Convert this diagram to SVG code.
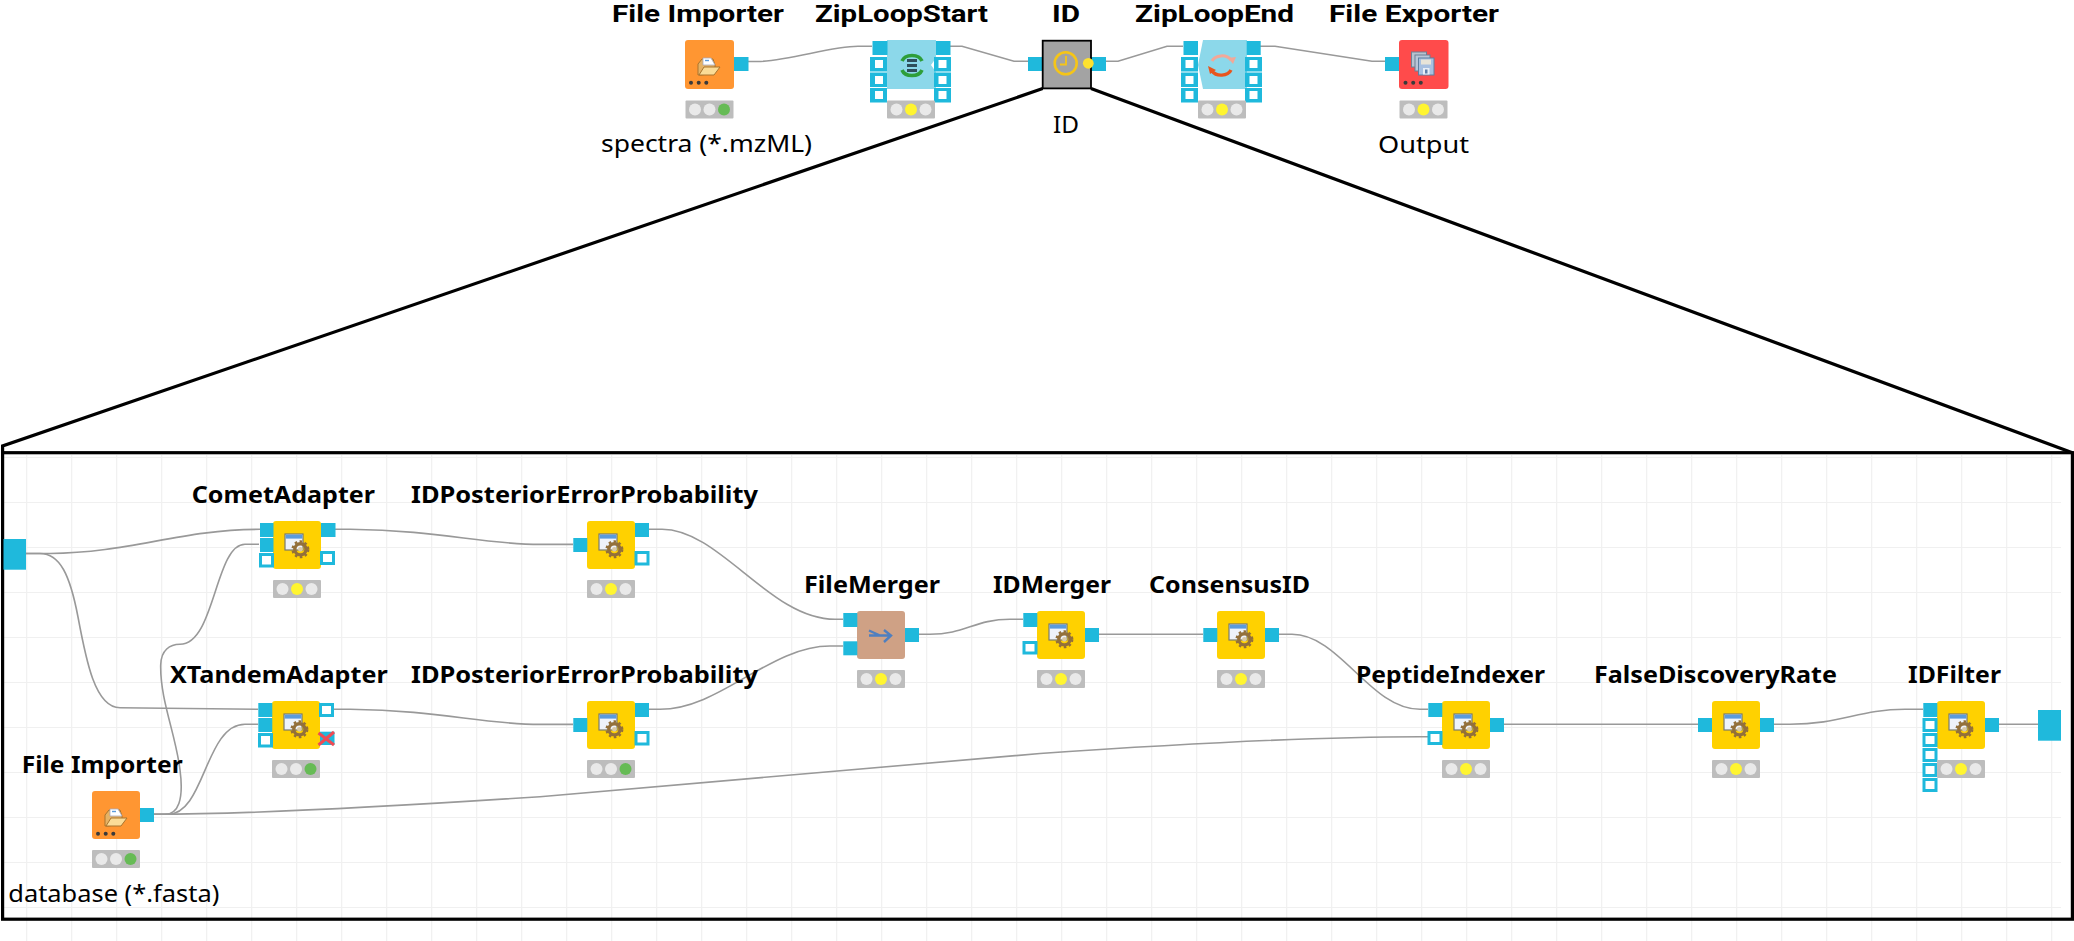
<svg xmlns="http://www.w3.org/2000/svg" width="2074" height="941" viewBox="0 0 2074 941">
<style>
text{font-family:"Noto Sans","Open Sans","DejaVu Sans",sans-serif;font-size:24px;fill:#000}
.b{font-weight:700}
.t{font-family:Roboto,"Noto Sans",sans-serif;font-size:23px}
.p{fill:#1fb9dc}
.e{fill:#fff;stroke:#1fb9dc;stroke-width:3}
.c{fill:none;stroke:#999;stroke-width:1.6}
.g{stroke:#f0f0f0;stroke-width:1.2;fill:none}
.f{fill:none;stroke:#000;stroke-width:3.2}
.n{fill:#ffd100}
.o{fill:#ff9632}
.r{fill:#ff4b4b}
.m{fill:#cfa185}
.l{fill:#8cd8ea}
.w{fill:#fff}
.d{fill:#3a3a3a}
</style>
<defs>
<g id="sg"><rect width="48" height="18" rx="1" fill="#bdbdbd"/><circle cx="9.5" cy="9" r="6" fill="#e9e9e9"/><circle cx="24" cy="9" r="6" fill="#e9e9e9"/><circle cx="38.5" cy="9" r="6" fill="#66bb55"/></g>
<g id="sy"><rect width="48" height="18" rx="1" fill="#bdbdbd"/><circle cx="9.5" cy="9" r="6" fill="#e9e9e9"/><circle cx="24" cy="9" r="6" fill="#fff530"/><circle cx="38.5" cy="9" r="6" fill="#e9e9e9"/></g>
<g id="dots"><circle cx="6" cy="42.7" r="2" class="d"/><circle cx="13.7" cy="42.7" r="2" class="d"/><circle cx="21.3" cy="42.7" r="2" class="d"/></g>
<g id="gear">
<rect x="12" y="13" width="18" height="16" fill="#eef3fa" stroke="#7a7a6a" stroke-width="1.2"/>
<rect x="12.6" y="13.6" width="16.8" height="4" fill="#5b9bdc"/>
<circle cx="27.4" cy="28.3" r="5.6" fill="none" stroke="#93703a" stroke-width="3.4"/>
<circle cx="27.4" cy="28.3" r="7.8" fill="none" stroke="#93703a" stroke-width="2.4" stroke-dasharray="2.6 2.5"/>
<circle cx="27.4" cy="28.3" r="2.4" fill="#d9c9a6"/>
</g>
<g id="folder">
<path d="M13 24 L17 19 H28 L30 25 V33 L16 35 H13Z" fill="#e6b264" stroke="#a9752e" stroke-width="1"/>
<path d="M18 18 H26 L30 25 H18Z" fill="#fff" stroke="#aab" stroke-width=".8"/>
<path d="M20 20.5H24" stroke="#5b9bdc" stroke-width="1.4"/>
<path d="M19 27 H35 L29 35 H14Z" fill="#fbdc97" stroke="#a9752e" stroke-width="1"/>
</g>
</defs>
<g id="grid">
<path class="g" d="M4 457.5H2061M4 502.5H2061M4 547.5H2061M4 592.5H2061M4 637.5H2061M4 682.5H2061M4 727.5H2061M4 772.5H2061M4 817.5H2061M4 862.5H2061M4 907.5H2061"/>
<path class="g" d="M26.7 455V941M71.7 455V941M116.7 455V941M161.7 455V941M206.7 455V941M251.7 455V941M296.7 455V941M341.7 455V941M386.7 455V941M431.7 455V941M476.7 455V941M521.7 455V941M566.7 455V941M611.7 455V941M656.7 455V941M701.7 455V941M746.7 455V941M791.7 455V941M836.7 455V941M881.7 455V941M926.7 455V941M971.7 455V941M1016.7 455V941M1061.7 455V941M1106.7 455V941M1151.7 455V941M1196.7 455V941M1241.7 455V941M1286.7 455V941M1331.7 455V941M1376.7 455V941M1421.7 455V941M1466.7 455V941M1511.7 455V941M1556.7 455V941M1601.7 455V941M1646.7 455V941M1691.7 455V941M1736.7 455V941M1781.7 455V941M1826.7 455V941M1871.7 455V941M1916.7 455V941M1961.7 455V941M2006.7 455V941M2051.7 455V941"/>
</g>
<g id="connectors">
<path class="c" d="M748 61.5H758C790 61 830 46.3 858 46.3H872"/>
<path class="c" d="M950 46.3H962L1014 61.3H1028"/>
<path class="c" d="M1106 61.3H1118L1167 46.3H1183"/>
<path class="c" d="M1260 46.3H1275L1372 61.3H1385"/>
<path class="c" d="M26 553.5H50C130 553 180 529.5 260 529.3"/>
<path class="c" d="M26 553.5H40C60 553.5 70 575 78 617C86 660 95 707.7 120 707.7L258 709.3"/>
<path class="c" d="M335 529.3H350C440 530 480 544.4 540 544.4H573"/>
<path class="c" d="M334 709.3H350C440 710 480 724.4 540 724.4H573"/>
<path class="c" d="M649 529.3H662C720 529.3 770 619.3 835 619.3H843"/>
<path class="c" d="M649 709.3H660C720 709.3 770 646 830 646H843"/>
<path class="c" d="M919 634.3H930C965 634.3 975 619.3 1010 619.3H1023"/>
<path class="c" d="M1099 634.3H1203"/>
<path class="c" d="M1279 634.3H1292C1340 634.3 1370 709.3 1420 709.3H1428"/>
<path class="c" d="M1504 724.3H1698"/>
<path class="c" d="M1774 724.3H1790C1840 724.3 1860 709.3 1905 709.3H1923"/>
<path class="c" d="M1999 724.3H2038"/>
<path class="c" d="M154 814.3C240 814.3 400 806 540 796.7L1040 753.5C1150 746 1300 736.7 1420 736.7H1428"/>
<path class="c" d="M154 814.3H168C205 814.3 205 724.3 245 724.3H258"/>
<path class="c" d="M154 814.3H165C178 814.3 184 800 180 770C176 735 160 700 160.7 665C161 650 170 644.3 180 644.3C215 644.3 215 544.3 245 544.3H259"/>
</g>
<g id="zoom-frame">
<rect class="f" x="2.6" y="452.7" width="2069.8" height="466.5"/>
<path class="f" d="M2.6 452.7V446L1042.7 88.6"/>
<path class="f" d="M1091 88.6L2072.4 452.7"/>
</g>
<g id="n-importer-top">
<text class="b t" x="612" y="21.6" textLength="172" lengthAdjust="spacingAndGlyphs">File Importer</text>
<rect class="o" x="685" y="40" width="49" height="49" rx="3"/>
<use href="#folder" x="685" y="40"/><use href="#dots" x="685" y="40"/>
<rect class="p" x="734" y="57" width="14.5" height="14"/>
<use href="#sg" x="685.5" y="100.5"/>
<text x="601" y="152" textLength="211" lengthAdjust="spacingAndGlyphs">spectra (*.mzML)</text>
</g>
<g id="n-zipstart">
<text class="b t" x="815" y="21.6" textLength="173" lengthAdjust="spacingAndGlyphs">ZipLoopStart</text>
<path class="l" d="M887 40H936V58L931 65L936 72V89H887Z"/>
<path fill="none" stroke="#2e9e3a" stroke-width="3.6" d="M902 61A10.5 8 0 0 1 922 61M902 70A10.5 8 0 0 0 922 70"/>
<rect x="907" y="59" width="10" height="3" fill="#2f4f5c"/><rect x="907" y="64" width="10" height="3" fill="#2f4f5c"/><rect x="907" y="69" width="10" height="3" fill="#2f4f5c"/>
<rect class="p" x="872.5" y="41" width="15" height="14"/><rect class="p" x="936" y="41" width="14.5" height="14"/>
<rect class="p" x="870" y="57" width="17" height="14.5"/><rect class="w" x="875" y="60" width="8" height="8"/><rect class="p" x="870" y="72.5" width="17" height="14.5"/><rect class="w" x="875" y="76" width="8" height="8"/><rect class="p" x="870" y="88" width="17" height="14.5"/><rect class="w" x="875" y="91" width="8" height="8"/>
<rect class="p" x="934" y="57" width="17" height="14.5"/><rect class="w" x="938.5" y="60" width="8" height="8"/><rect class="p" x="934" y="72.5" width="17" height="14.5"/><rect class="w" x="938.5" y="76" width="8" height="8"/><rect class="p" x="934" y="88" width="17" height="14.5"/><rect class="w" x="938.5" y="91" width="8" height="8"/>
<use href="#sy" x="887" y="100.5"/>
</g>
<g id="n-id">
<text class="b t" x="1052" y="21.6" textLength="28" lengthAdjust="spacingAndGlyphs">ID</text>
<rect class="p" x="1028" y="57" width="15" height="14"/><rect class="p" x="1091" y="57" width="15" height="14"/>
<rect x="1042.7" y="40.7" width="48.3" height="47.7" fill="#a3a3a3" stroke="#000" stroke-width="1.8"/>
<circle cx="1065.7" cy="63.3" r="11" fill="none" stroke="#f5c518" stroke-width="2.6"/>
<path d="M1066 56V64.5H1060" fill="none" stroke="#f5c518" stroke-width="1.8"/>
<circle cx="1088.3" cy="63.3" r="5.4" fill="#fde12f"/>
<text x="1053" y="133" textLength="26" lengthAdjust="spacingAndGlyphs">ID</text>
</g>
<g id="n-zipend">
<text class="b t" x="1135" y="21.6" textLength="159" lengthAdjust="spacingAndGlyphs">ZipLoopEnd</text>
<path class="l" d="M1203 40H1247V89H1203L1198 65Z"/>
<path fill="none" stroke="#f2a898" stroke-width="3" d="M1212 61A10.5 8 0 0 1 1231 60"/>
<path fill="#f2a898" d="M1228 58L1236 57L1233 64Z"/>
<path fill="none" stroke="#e8561e" stroke-width="3.4" d="M1231 70A10.5 8 0 0 1 1212 71"/>
<path fill="#e8561e" d="M1208 66L1216 70L1210 74Z"/>
<rect class="p" x="1183.5" y="41" width="14.5" height="14"/><rect class="p" x="1246.7" y="41" width="14" height="14"/>
<rect class="p" x="1181" y="57" width="17" height="14.5"/><rect class="w" x="1185.5" y="60" width="8" height="8"/><rect class="p" x="1181" y="72.5" width="17" height="14.5"/><rect class="w" x="1185.5" y="76" width="8" height="8"/><rect class="p" x="1181" y="88" width="17" height="14.5"/><rect class="w" x="1185.5" y="91" width="8" height="8"/>
<rect class="p" x="1245" y="57" width="17" height="14.5"/><rect class="w" x="1249.5" y="60" width="8" height="8"/><rect class="p" x="1245" y="72.5" width="17" height="14.5"/><rect class="w" x="1249.5" y="76" width="8" height="8"/><rect class="p" x="1245" y="88" width="17" height="14.5"/><rect class="w" x="1249.5" y="91" width="8" height="8"/>
<use href="#sy" x="1198" y="100.5"/>
</g>
<g id="n-exporter">
<text class="b t" x="1329" y="21.6" textLength="170" lengthAdjust="spacingAndGlyphs">File Exporter</text>
<rect class="p" x="1385" y="57" width="15" height="14"/>
<rect class="r" x="1399" y="40" width="49.5" height="49" rx="3"/>
<rect x="1411.5" y="52" width="15" height="15" fill="#b8c2cf" stroke="#6f7f94"/><rect x="1415" y="55" width="15" height="16" fill="#b8c6d8" stroke="#6f7f94"/><rect x="1418.5" y="58" width="15.5" height="17" fill="#a8c0e0" stroke="#5f7f9f"/><rect x="1421" y="59.5" width="10" height="5" fill="#e8e4d8"/><rect x="1423" y="68" width="6.5" height="6.5" fill="#e8eef6"/><rect x="1425" y="69.5" width="2.5" height="4" fill="#5f7fa8"/>
<use href="#dots" x="1399.5" y="40"/>
<use href="#sy" x="1399.5" y="100.5"/>
<text x="1378" y="152.7" textLength="91" lengthAdjust="spacingAndGlyphs">Output</text>
</g>
<g id="n-input"><rect class="p" x="3.5" y="539" width="22.5" height="30.7"/></g>
<g id="n-output"><rect class="p" x="2038" y="710" width="23" height="30.7"/></g>
<g id="n-comet">
<text class="b" x="191.7" y="503" textLength="183.3" lengthAdjust="spacingAndGlyphs">CometAdapter</text>
<rect class="n" x="273" y="521" width="48" height="48" rx="3"/><use href="#gear" x="273" y="521"/>
<rect class="p" x="260" y="523" width="13.5" height="14"/><rect class="p" x="260" y="538" width="13.5" height="14"/><rect class="e" x="260.5" y="554.5" width="12" height="11.5"/>
<rect class="p" x="321" y="523" width="14.5" height="14"/><rect class="e" x="321.5" y="552.5" width="12" height="11"/>
<use href="#sy" x="273" y="580"/>
</g>
<g id="n-post1">
<text class="b" x="411" y="503" textLength="347" lengthAdjust="spacingAndGlyphs">IDPosteriorErrorProbability</text>
<rect class="n" x="587" y="521" width="48" height="48" rx="3"/><use href="#gear" x="587" y="521"/>
<rect class="p" x="573.3" y="538" width="14" height="14"/>
<rect class="p" x="635" y="523" width="14" height="14"/><rect class="e" x="636" y="552.5" width="12" height="11.5"/>
<use href="#sy" x="587" y="580"/>
</g>
<g id="n-xtandem">
<text class="b" x="170" y="683" textLength="217.7" lengthAdjust="spacingAndGlyphs">XTandemAdapter</text>
<rect class="n" x="272" y="701" width="48" height="48" rx="3"/><use href="#gear" x="272" y="701"/>
<rect class="p" x="258.3" y="703" width="14" height="14"/><rect class="p" x="258.3" y="718" width="14" height="14"/><rect class="e" x="259.5" y="734.5" width="12" height="11.5"/>
<rect class="e" x="320.5" y="704.5" width="12" height="11"/>
<rect class="p" x="320" y="731.7" width="14.5" height="13.3"/>
<path d="M318.5 733L334 745M334 732L318.5 745" stroke="#ee4b55" stroke-width="3" fill="none"/>
<use href="#sg" x="272" y="760"/>
</g>
<g id="n-post2">
<text class="b" x="411" y="683" textLength="347" lengthAdjust="spacingAndGlyphs">IDPosteriorErrorProbability</text>
<rect class="n" x="587" y="701" width="48" height="48" rx="3"/><use href="#gear" x="587" y="701"/>
<rect class="p" x="573.3" y="718" width="14" height="14"/>
<rect class="p" x="635" y="703" width="14" height="14"/><rect class="e" x="636" y="732.5" width="12" height="11.5"/>
<use href="#sg" x="587" y="760"/>
</g>
<g id="n-importer-db">
<text class="b" x="21.7" y="773" textLength="161" lengthAdjust="spacingAndGlyphs">File Importer</text>
<rect class="o" x="92" y="791" width="48" height="48" rx="3"/>
<use href="#folder" x="92" y="791"/><use href="#dots" x="92" y="791"/>
<rect class="p" x="140" y="808" width="14" height="14"/>
<use href="#sg" x="92" y="850"/>
<text x="8.3" y="901.5" textLength="211" lengthAdjust="spacingAndGlyphs">database (*.fasta)</text>
</g>
<g id="n-filemerger">
<text class="b" x="804" y="593" textLength="136" lengthAdjust="spacingAndGlyphs">FileMerger</text>
<rect class="m" x="857" y="611" width="48" height="48" rx="3"/>
<path d="M869 630.5L880 635.5M869 635.5H891M884 630L891 635.5L884 642" fill="none" stroke="#4f7fbf" stroke-width="2.4"/>
<rect class="p" x="843.3" y="613" width="14" height="14"/><rect class="p" x="843.3" y="641.3" width="14" height="14"/>
<rect class="p" x="905" y="628" width="14" height="14"/>
<use href="#sy" x="857" y="670"/>
</g>
<g id="n-idmerger">
<text class="b" x="993" y="593" textLength="118" lengthAdjust="spacingAndGlyphs">IDMerger</text>
<rect class="n" x="1037" y="611" width="48" height="48" rx="3"/><use href="#gear" x="1037" y="611"/>
<rect class="p" x="1023.3" y="613" width="14" height="14"/><rect class="e" x="1024" y="642.5" width="12" height="10.5"/>
<rect class="p" x="1085" y="628" width="14" height="14"/>
<use href="#sy" x="1037" y="670"/>
</g>
<g id="n-consensus">
<text class="b" x="1149" y="593" textLength="161" lengthAdjust="spacingAndGlyphs">ConsensusID</text>
<rect class="n" x="1217" y="611" width="48" height="48" rx="3"/><use href="#gear" x="1217" y="611"/>
<rect class="p" x="1203.3" y="628" width="14" height="14"/><rect class="p" x="1265" y="628" width="14" height="14"/>
<use href="#sy" x="1217" y="670"/>
</g>
<g id="n-peptide">
<text class="b" x="1356" y="683" textLength="189" lengthAdjust="spacingAndGlyphs">PeptideIndexer</text>
<rect class="n" x="1442" y="701" width="48" height="48" rx="3"/><use href="#gear" x="1442" y="701"/>
<rect class="p" x="1428.3" y="703" width="14" height="14"/><rect class="e" x="1429" y="732.5" width="12" height="11"/>
<rect class="p" x="1490" y="718" width="14" height="14"/>
<use href="#sy" x="1442" y="760"/>
</g>
<g id="n-fdr">
<text class="b" x="1594" y="683" textLength="243" lengthAdjust="spacingAndGlyphs">FalseDiscoveryRate</text>
<rect class="n" x="1712" y="701" width="48" height="48" rx="3"/><use href="#gear" x="1712" y="701"/>
<rect class="p" x="1698" y="718" width="14" height="14"/><rect class="p" x="1760" y="718" width="14" height="14"/>
<use href="#sy" x="1712" y="760"/>
</g>
<g id="n-idfilter">
<text class="b" x="1908" y="683" textLength="93" lengthAdjust="spacingAndGlyphs">IDFilter</text>
<rect class="n" x="1937" y="701" width="48" height="48" rx="3"/><use href="#gear" x="1937" y="701"/>
<rect class="p" x="1923.3" y="703" width="14" height="14"/>
<rect class="e" x="1924" y="719.5" width="12" height="11"/><rect class="e" x="1924" y="734.5" width="12" height="11"/><rect class="e" x="1924" y="749.5" width="12" height="11"/><rect class="e" x="1924" y="764.5" width="12" height="11"/><rect class="e" x="1924" y="779.5" width="12" height="11"/>
<rect class="p" x="1985" y="718" width="14" height="14"/>
<use href="#sy" x="1937" y="760"/>
</g>
</svg>
